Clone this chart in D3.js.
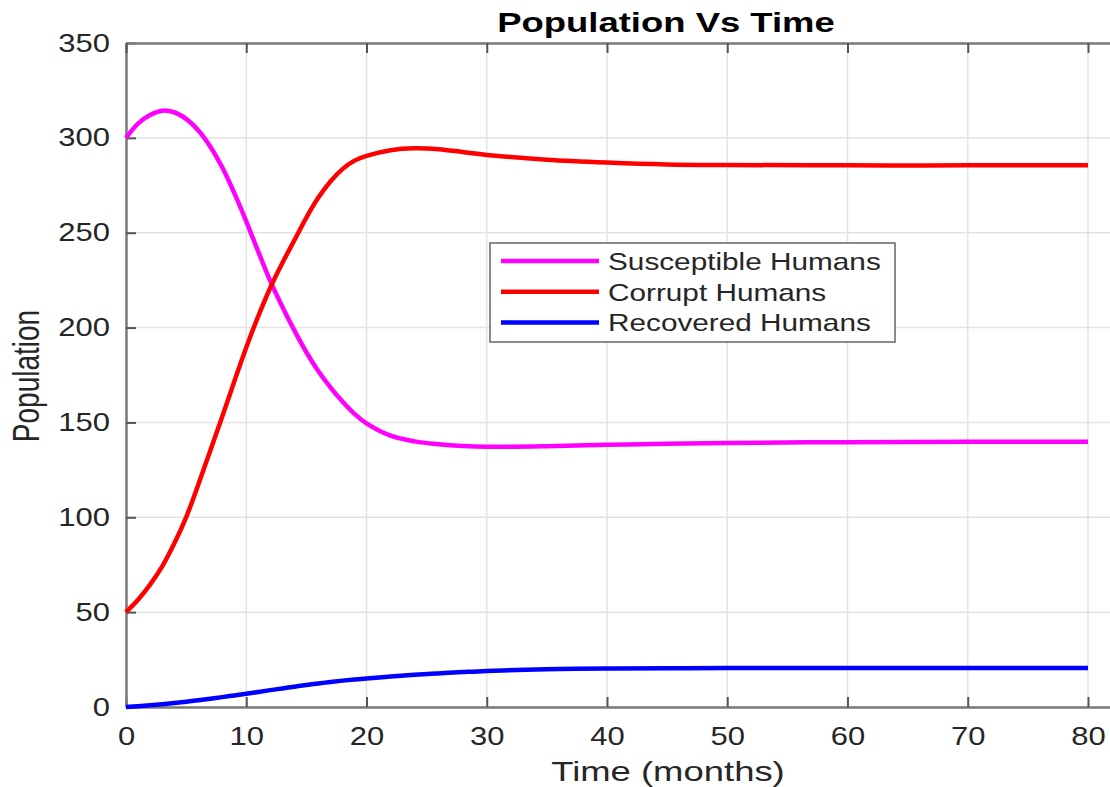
<!DOCTYPE html>
<html>
<head>
<meta charset="utf-8">
<title>Population Vs Time</title>
<script src="https://cdn.jsdelivr.net/npm/d3@7"></script>
<style>
  body { margin: 0; background: #fff; }
  text { font-family: "Liberation Sans", Arial, sans-serif; }
</style>
</head>
<body>
<div id="chart"></div>
<script>
// time points (months) and the three series
var months = [0,1,2,3,4,5,6,7,8,9,10,11,12,13,14,15,16,17,18,19,20,22,24,26,28,30,35,40,45,50,60,70,80];
var susceptible = [300,307.5,312,314.3,313.5,310,304,295.5,284.5,271,256,240,224.5,211,198.5,187,177,168.5,161,154.5,149.5,143,140,138.5,137.6,137.2,137.5,138.2,138.8,139.2,139.6,139.8,139.8];
var corrupt = [50,56.5,64.5,74,86,100,117,135,153,171.5,189.5,206,221,234,246,258,268.5,277,283.5,288,290.5,293.5,294.5,294,292.5,291,288.5,287,286,285.7,285.5,285.5,285.5];
var recovered = [0,0.4,0.9,1.5,2.1,2.8,3.6,4.4,5.2,6.1,7.0,7.9,8.9,9.8,10.7,11.6,12.4,13.2,13.9,14.5,15.0,16.1,17.0,17.7,18.4,19.0,19.9,20.3,20.4,20.5,20.5,20.5,20.5];
var seriesNames = ["Susceptible Humans","Corrupt Humans","Recovered Humans"];
var xTicks = [0,10,20,30,40,50,60,70,80];
var yTicks = [0,50,100,150,200,250,300,350];

var colors = ["#ff00ff","#ff0000","#0000ff"];
var W = 1110, H = 787;
var plotL = 126, plotR = 1110, plotT = 43, plotB = 707;
var sx = 1.24; // the picture is stretched sideways

var svg = d3.select("#chart").append("svg")
  .attr("width", W).attr("height", H);

var x = d3.scaleLinear().domain([0, 81.83]).range([plotL, plotR]);
var y = d3.scaleLinear().domain([0, 350]).range([plotB, plotT]);

// grid
svg.append("g").selectAll("line").data(xTicks).enter().append("line")
  .attr("x1", d => x(d)).attr("x2", d => x(d))
  .attr("y1", plotT).attr("y2", plotB)
  .attr("stroke", "#e3e3e3").attr("stroke-width", 1.5);
svg.append("g").selectAll("line").data(yTicks).enter().append("line")
  .attr("x1", plotL).attr("x2", plotR)
  .attr("y1", d => y(d)).attr("y2", d => y(d))
  .attr("stroke", "#e3e3e3").attr("stroke-width", 1.5);

// axes
var xAxis = svg.append("g")
  .attr("transform", "translate(0," + plotB + ")")
  .call(d3.axisBottom(x).tickValues(xTicks).tickSize(-10).tickSizeOuter(0).tickPadding(20));
var yAxis = svg.append("g")
  .attr("transform", "translate(" + plotL + ",0)")
  .call(d3.axisLeft(y).tickValues(yTicks).tickSize(-10).tickSizeOuter(0).tickPadding(16));
var topAxis = svg.append("g")
  .attr("transform", "translate(0," + plotT + ")")
  .call(d3.axisTop(x).tickValues(xTicks).tickSize(-10).tickSizeOuter(0).tickFormat(""));

[xAxis, yAxis, topAxis].forEach(function(g){
  g.select(".domain").attr("stroke", "#7a7a7a").attr("stroke-width", 2.5);
  g.selectAll(".tick line").attr("stroke", "#555").attr("stroke-width", 2);
  g.selectAll(".tick text").attr("fill", "#262626").attr("font-size", 25)
    .attr("font-family", "Liberation Sans, Arial, sans-serif");
});
xAxis.selectAll(".tick text").attr("transform", "scale(" + sx + ",1)");
yAxis.selectAll(".tick text").attr("x", -16 / sx).attr("transform", "scale(" + sx + ",1)");

// curves
var rows = months.map((m, i) => ({t: m, v: [susceptible[i], corrupt[i], recovered[i]]}));
var line = k => d3.line().curve(d3.curveCatmullRom.alpha(0.5)).x(d => x(d.t)).y(d => y(d.v[k]));
[2, 0, 1].forEach(function(k){
  svg.append("path").datum(rows)
    .attr("d", line(k))
    .attr("fill", "none")
    .attr("stroke", colors[k])
    .attr("stroke-width", 4.5)
    .attr("stroke-linejoin", "round");
});

// title and axis labels
svg.append("text")
  .attr("transform", "translate(666,32) scale(1.35,1)")
  .attr("text-anchor", "middle").attr("font-size", 27).attr("font-weight", "bold")
  .attr("fill", "#000").text("Population Vs Time");
svg.append("text")
  .attr("transform", "translate(668,781) scale(1.35,1)")
  .attr("text-anchor", "middle").attr("font-size", 27)
  .attr("fill", "#262626").text("Time (months)");
svg.append("text")
  .attr("transform", "translate(39,376) rotate(-90) scale(1,1.3)")
  .attr("text-anchor", "middle").attr("font-size", 28)
  .attr("fill", "#262626").text("Population");

// legend
var legend = svg.append("g").attr("transform", "translate(490,243)");
legend.append("rect")
  .attr("width", 405).attr("height", 99)
  .attr("fill", "#fff").attr("stroke", "#666").attr("stroke-width", 1.5);
seriesNames.forEach(function(name, i){
  var ry = 18 + i * 30.7;
  legend.append("line")
    .attr("x1", 11).attr("x2", 109).attr("y1", ry).attr("y2", ry)
    .attr("stroke", colors[i]).attr("stroke-width", 4.5);
  legend.append("text")
    .attr("transform", "translate(118," + (ry + 9) + ") scale(" + sx + ",1)")
    .attr("font-size", 24).attr("fill", "#262626").text(name);
});
</script>
</body>
</html>
